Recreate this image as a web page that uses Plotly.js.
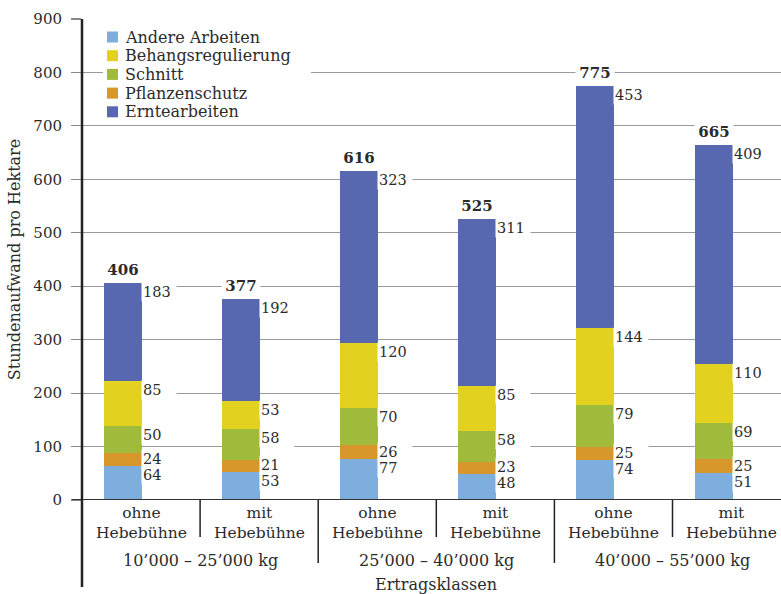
<!DOCTYPE html>
<html>
<head>
<meta charset="utf-8">
<script src="https://cdn.plot.ly/plotly-3.0.1.min.js"></script>
<style>html,body{margin:0;padding:0;background:#fff;}#chart{width:781px;height:594px;}</style>
</head>
<body>
<div id="chart"></div>
<script>
// ---- data ----
const subCategories = ["ohne", "mit", "ohne", "mit", "ohne", "mit"];
const subCategoryLine2 = "Hebebühne";
const groups = ["10’000 – 25’000 kg", "25’000 – 40’000 kg", "40’000 – 55’000 kg"];
const xTitle = "Ertragsklassen";
const yTitle = "Stundenaufwand pro Hektare";

// stack order bottom -> top
const andereArbeiten   = [64, 53, 77, 48, 74, 51];
const pflanzenschutz   = [24, 21, 26, 23, 25, 25];
const schnitt          = [50, 58, 70, 58, 79, 69];
const behangsregulierung = [85, 53, 120, 85, 144, 110];
const erntearbeiten    = [183, 192, 323, 311, 453, 409];
const totals           = [406, 377, 616, 525, 775, 665];

const seriesNames = ["Andere Arbeiten", "Pflanzenschutz", "Schnitt", "Behangsregulierung", "Erntearbeiten"];
const seriesValues = [andereArbeiten, pflanzenschutz, schnitt, behangsregulierung, erntearbeiten];
const seriesColors = ["#7eaedd", "#d8972a", "#a0ba3b", "#e2d21f", "#5767b0"];
const legendOrder = ["Andere Arbeiten", "Behangsregulierung", "Schnitt", "Pflanzenschutz", "Erntearbeiten"];

// ---- layout constants ----
const W = 781, H = 594;
const M = {l: 82, r: 0, t: 19, b: 94};
const plotW = W - M.l - M.r, plotH = H - M.t - M.b;
const yMax = 900;
const pxPerUnit = plotH / yMax;
const catPx = 118.1;
const xRange = [-0.5, -0.5 + plotW / catPx];
const barWidth = 38 / catPx;
const barOffset = -37 / catPx;
const FONT = "DejaVu Serif";
const TXT = "#2b2b2b";

const xs = subCategories.map((_, i) => i);

const traces = seriesValues.map((vals, k) => ({
  type: "bar",
  name: seriesNames[k],
  x: xs,
  y: vals,
  width: barWidth,
  offset: barOffset,
  marker: {color: seriesColors[k], line: {width: 0}},
  showlegend: false,
  hoverinfo: "y+name"
}));

const annotations = [];
const shapes = [];

// value labels with simple collision avoidance
xs.forEach(i => {
  let cum = 0;
  let prevCenter = Infinity;
  seriesValues.forEach((vals, k) => {
    cum += vals[i];
    const topPx = plotH - cum * pxPerUnit;
    let center = topPx + 9;
    if (center > prevCenter - 16) center = prevCenter - 16;
    prevCenter = center;
    annotations.push({
      x: i + barOffset + barWidth, y: cum, xref: "x", yref: "y",
      xanchor: "left", yanchor: "middle",
      xshift: -1, yshift: -(center - topPx),
      text: String(vals[i]), showarrow: false,
      align: "left", width: 32, borderpad: 1, bgcolor: "#ffffff",
      font: {family: FONT, size: 14.5, color: TXT}
    });
  });
  annotations.push({
    x: i + barOffset + barWidth / 2, y: totals[i], xref: "x", yref: "y",
    xanchor: "center", yanchor: "bottom", yshift: 2,
    text: "<b>" + totals[i] + "</b>", showarrow: false,
    width: 36, borderpad: 1, bgcolor: "#ffffff",
    font: {family: FONT, size: 15, color: TXT}
  });
  // category labels (two lines)
  annotations.push({
    x: i, y: 0, xref: "x", yref: "paper", yanchor: "middle", yshift: -23,
    text: subCategories[i] + "<br>" + subCategoryLine2, showarrow: false,
    font: {family: FONT, size: 15.5, color: TXT}
  });
  // dividers
  if (i > 0) {
    const isGroup = i % 2 === 0;
    shapes.push({
      type: "line", xref: "x", yref: "paper",
      x0: i - 0.5, x1: i - 0.5, y0: 0, y1: -(isGroup ? 63 : 37) / plotH,
      line: {color: "#222", width: 1.5}
    });
  }
});

groups.forEach((g, j) => {
  annotations.push({
    x: 2 * j + 0.5, y: 0, xref: "x", yref: "paper", yanchor: "middle", yshift: -60,
    text: g, showarrow: false, font: {family: FONT, size: 16, color: TXT}
  });
});
annotations.push({
  x: (subCategories.length - 1) / 2, y: 0, xref: "x", yref: "paper", yanchor: "middle", yshift: -84,
  text: xTitle, showarrow: false, font: {family: FONT, size: 16, color: TXT}
});

// axis lines
shapes.push({type: "line", xref: "paper", yref: "y", x0: -10 / plotW, x1: 1, y0: 0, y1: 0,
  line: {color: "#333", width: 2}});
shapes.push({type: "line", xref: "paper", yref: "paper", x0: 0, x1: 0, y0: -87 / plotH, y1: 1,
  line: {color: "#222", width: 2.5}});

// manual legend
const px2x = px => (px - M.l) / plotW;
const py2y = py => (M.t + plotH - py) / plotH;
shapes.push({type: "rect", xref: "paper", yref: "paper",
  x0: px2x(103), x1: px2x(311), y0: py2y(121), y1: py2y(27),
  fillcolor: "#ffffff", line: {width: 0}, layer: "above"});
legendOrder.forEach((name, r) => {
  const k = seriesNames.indexOf(name);
  const cy = 37 + r * 18.7;
  shapes.push({type: "rect", xref: "paper", yref: "paper",
    x0: px2x(107), x1: px2x(118), y0: py2y(cy + 5.5), y1: py2y(cy - 5.5),
    fillcolor: seriesColors[k], line: {width: 0}, layer: "above"});
  annotations.push({x: px2x(123), y: py2y(cy), xref: "paper", yref: "paper",
    xanchor: "left", yanchor: "middle", text: name, showarrow: false,
    font: {family: FONT, size: 16, color: TXT}});
});

const layout = {
  width: W, height: H,
  margin: M,
  paper_bgcolor: "#ffffff", plot_bgcolor: "#ffffff",
  barmode: "stack",
  bargap: 0,
  font: {family: FONT, color: TXT},
  showlegend: false,
  xaxis: {range: xRange, showgrid: false, zeroline: false, showline: false,
    showticklabels: false, ticks: "", fixedrange: true},
  yaxis: {range: [0, yMax], dtick: 100, tick0: 0, showgrid: true, gridcolor: "#999", gridwidth: 1.2,
    zeroline: false, showline: false, ticks: "outside", ticklen: 10, tickcolor: "#888", tickwidth: 1.2,
    tickfont: {family: FONT, size: 15, color: TXT}, ticklabelstandoff: 6,
    title: {text: yTitle, font: {family: FONT, size: 16, color: TXT}, standoff: 8},
    fixedrange: true},
  shapes: shapes,
  annotations: annotations
};

Plotly.newPlot("chart", traces, layout, {displayModeBar: false, staticPlot: true});
</script>
</body>
</html>
